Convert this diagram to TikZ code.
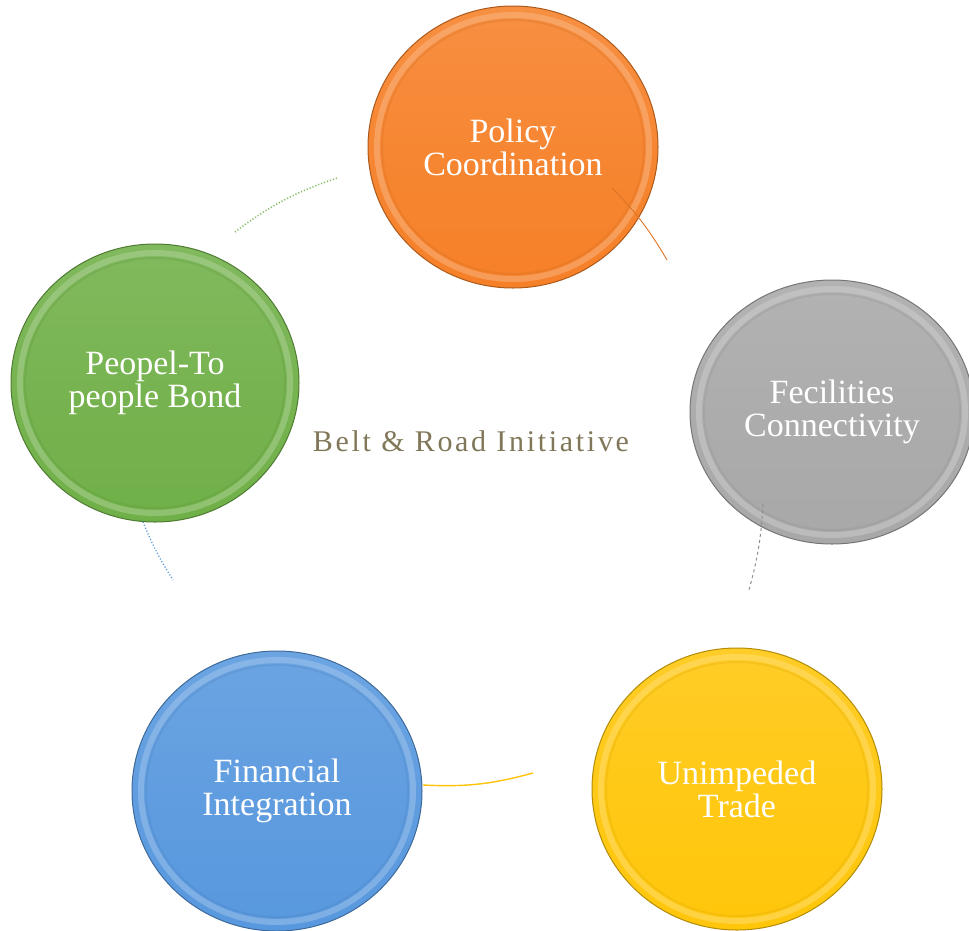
\documentclass[tikz,border=0pt]{standalone}
\usepackage{fontspec}
\setmainfont{Liberation Serif}
\newfontfamily\beltfont[LetterSpace=9]{Liberation Serif}
\usetikzlibrary{shapes.geometric}
\definecolor{cOrange}{RGB}{246,128,40}
\definecolor{cGray}{RGB}{168,168,168}
\definecolor{cYellow}{RGB}{255,198,10}
\definecolor{cBlue}{RGB}{88,152,222}
\definecolor{cGreen}{RGB}{112,176,72}
\definecolor{cBelt}{RGB}{128,118,88}
\tikzset{
  bubble/.style={ellipse, minimum width=290pt, minimum height=282pt, inner sep=0pt,
    text=white, align=center, font=\fontsize{34}{33}\selectfont,
    draw=#1!70!black, line width=1pt,
    top color=#1!88!white, bottom color=#1, middle color=#1!95!white},
  ringhi/.style={draw=#1!50!white, line width=6pt, opacity=.45},
  ringlo/.style={draw=#1!85!black, line width=2pt, opacity=.25},
  link/.style={line width=1.1pt, #1},
}
\begin{document}
\begin{tikzpicture}[x=1pt,y=-1pt]
\useasboundingbox (0,0) rectangle (969,930);
% bubbles
\node[bubble=cOrange] (policy) at (513,147) {Policy\\Coordination};
\node[bubble=cGray, minimum width=284pt, minimum height=264pt] (facil) at (832,412) {Fecilities\\Connectivity};
\node[bubble=cYellow] (trade) at (737,789) {Unimpeded\\Trade};
\node[bubble=cBlue, minimum height=280pt] (finance) at (277,791) {Financial\\Integration};
\node[bubble=cGreen, minimum width=288pt, minimum height=278pt] (people) at (155,383) {Peopel-To\\people Bond};
% bevel rings
\foreach \n/\c/\rx/\ry in {policy/cOrange/136/132, trade/cYellow/136/132, finance/cBlue/136/131, people/cGreen/135/130, facil/cGray/133/123}{
  \draw[ringhi=\c] (\n.center) ellipse ({\rx pt} and {\ry pt});
  \draw[ringlo=\c] (\n.center) ellipse ({(\rx-5)*1pt} and {(\ry-5)*1pt});
}
% connector end points
\coordinate (g1) at (235,232);
\coordinate (g2) at (337,178);
\coordinate (o1) at (612,188);
\coordinate (o2) at (667,260);
\coordinate (s1) at (763,504);
\coordinate (s2) at (749,590);
\coordinate (y1) at (423,785);
\coordinate (y2) at (533,773);
\coordinate (b1) at (143,522);
\coordinate (b2) at (173,580);
% connectors
\draw[link={cGreen!85!white, dotted, line width=1.6pt}] (g1) to[bend left=9] (g2);
\draw[link={cOrange!90!black, line width=0.9pt}] (o1) to[bend left=7] (o2);
\draw[link={cGray!85!black, dashed, line width=1pt}] (s1) to[bend left=6] (s2);
\draw[link={cYellow!95!orange, line width=1.4pt}] (y1) to[bend right=9] (y2);
\draw[link={cBlue, dotted, line width=1.3pt}] (b1) to[bend right=5] (b2);
% centre label
\node[text=cBelt, font=\beltfont\fontsize{30}{32}\selectfont, inner sep=0pt] (belt) at (471,441) {Belt \& Road Initiative};
\end{tikzpicture}
\end{document}
